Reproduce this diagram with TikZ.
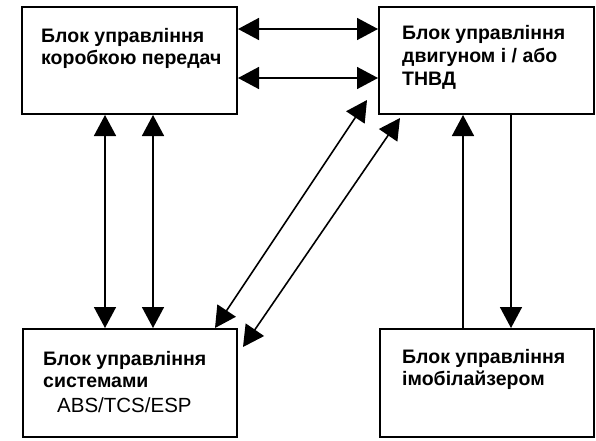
\documentclass[tikz,border=0pt]{standalone}
\usepackage{fontspec}
\setmainfont{Liberation Sans}
\usetikzlibrary{arrows.meta}
\begin{document}
\begin{tikzpicture}[x=1pt,y=-1pt,
  box/.style={draw, line width=2pt, inner sep=0pt},
  lbl/.style={font=\bfseries\fontsize{19.5}{22}\selectfont, anchor=base west, inner sep=0pt},
  lblr/.style={font=\fontsize{20.5}{22}\selectfont, anchor=base west, inner sep=0pt},
  tip/.tip={Triangle[length=21pt,width=22pt]},
  arr/.style={line width=1.6pt, -tip},
  biarr/.style={line width=1.6pt, tip-tip}]
\useasboundingbox (0,0) rectangle (596,440);
% boxes
\node[box, minimum width=215pt, minimum height=107pt] (tl) at (129.5,60.5) {};
\node[box, minimum width=215pt, minimum height=107pt] (tr) at (486.5,60.5) {};
\node[box, minimum width=214pt, minimum height=108pt] (bl) at (130,383) {};
\node[box, minimum width=214pt, minimum height=108pt] (br) at (487,383) {};
% texts
\node[lbl] (t1a) at (41,42) {Блок управління};
\node[lbl] (t1b) at (41,64) {коробкою передач};
\node[lbl] (t2a) at (402,39) {Блок управління};
\node[lbl] (t2b) at (402,62) {двигуном і / або};
\node[lbl] (t2c) at (402,85) {ТНВД};
\node[lbl] (t3a) at (43,365) {Блок управління};
\node[lbl] (t3b) at (43,387) {системами};
\node[lblr] (t3c) at (57,412) {ABS/TCS/ESP};
\node[lbl] (t4a) at (402,363) {Блок управління};
\node[lbl] (t4b) at (402,385) {імобілайзером};
% horizontal arrows
\draw[biarr] (tl.east |- 0,29) -- (tr.west |- 0,29);
\draw[biarr] (tl.east |- 0,78) -- (tr.west |- 0,78);
% left vertical arrows
\draw[biarr] (tl.south -| 105,0) -- (bl.north -| 105,0);
\draw[biarr] (tl.south -| 153,0) -- (bl.north -| 153,0);
% right vertical arrows
\draw[arr] (br.north -| 463,0) -- (tr.south -| 463,0);
\draw[arr] (tr.south -| 511,0) -- (br.north -| 511,0);
% diagonal arrows
\coordinate (d1a) at (367,100);
\coordinate (d1b) at (215,328);
\coordinate (d2a) at (400,118);
\coordinate (d2b) at (243,347);
\draw[biarr] (d1b) -- (d1a);
\draw[biarr] (d2b) -- (d2a);
\end{tikzpicture}
\end{document}
